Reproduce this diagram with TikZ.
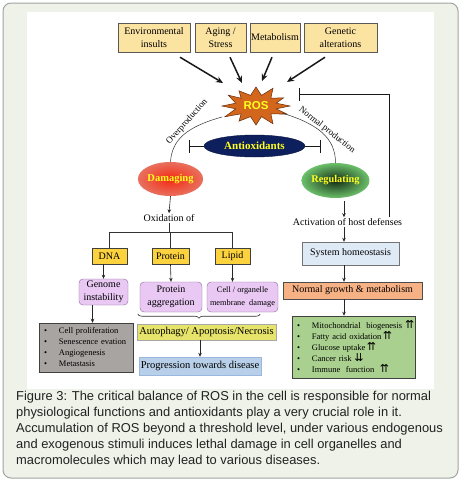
\documentclass[tikz,border=0pt]{standalone}
\usepackage{fontspec}
\setmainfont{Liberation Serif}
\newfontfamily\capfont{Liberation Sans}
\newfontfamily\symfont{DejaVu Sans}
\usetikzlibrary{arrows.meta,shapes.geometric,decorations.pathreplacing,calc}
\definecolor{framebg}{HTML}{EEF2E8}
\definecolor{frameln}{HTML}{A0A4A0}
\definecolor{tanfill}{HTML}{FBE3A2}
\definecolor{goldfill}{HTML}{FCD23E}
\definecolor{lilac}{HTML}{E9C8F4}
\definecolor{lilacln}{HTML}{8A6A9A}
\definecolor{grayfill}{HTML}{A8A4A2}
\definecolor{autofill}{HTML}{E6E46A}
\definecolor{progfill}{HTML}{B8CFE9}
\definecolor{progln}{HTML}{9AB8DD}
\definecolor{sysfill}{HTML}{DFEAF7}
\definecolor{ngfill}{HTML}{F6B184}
\definecolor{greenfill}{HTML}{A9D08E}
\definecolor{navy}{HTML}{0D1F5C}
\definecolor{rosfill}{HTML}{D2661C}
\definecolor{rosln}{HTML}{6A2A08}
\definecolor{txtyel}{HTML}{FFFF20}
\definecolor{captxt}{HTML}{222222}
\definecolor{damin}{HTML}{F42A12}
\definecolor{damout}{HTML}{E8705E}
\definecolor{regin}{HTML}{142A14}
\definecolor{regout}{HTML}{6CC06A}
\tikzset{
  sz/.style={font=\fontsize{#1}{#1}\selectfont},
  tbox/.style={draw=black!65, fill=tanfill, inner sep=0, align=center, minimum height=29,
     font=\fontsize{10}{12.5}\selectfont},
  gbox/.style={draw=black!75, fill=goldfill, inner sep=0, minimum height=16, font=\fontsize{10}{12}\selectfont},
  pbox/.style={draw=lilacln, fill=lilac, rounded corners=4pt, inner sep=0, align=center,
     font=\fontsize{10}{12.5}\selectfont},
  listbox/.style={draw=black!75, inner sep=5pt, align=left, font=\fontsize{8.5}{11}\selectfont},
  arr/.style={-{Stealth[length=4pt,width=3.5pt]}, line width=0.6pt, black!85},
  bigarr/.style={-{Stealth[length=7pt,width=6pt]}, line width=1.5pt, black!90},
  plain/.style={line width=0.6pt, black!80},
  inhib/.style={-{Bar[width=13pt,line width=1.2pt]}, line width=1pt, black!90}
}
\newcommand{\itm}[1]{\makebox[15pt][l]{\textbullet}#1}
\newcommand{\upup}{\rlap{\symfont\fontsize{11}{11}\selectfont ⇈}}
\newcommand{\dndn}{\rlap{\symfont\fontsize{11}{11}\selectfont ⇊}}
\begin{document}
\begin{tikzpicture}[x=1pt,y=-1pt]
\useasboundingbox (0,0) rectangle (462,480);
% frame
\draw[fill=framebg, draw=frameln, line width=1pt, rounded corners=8pt] (3,3) rectangle (458,478);
\fill[white] (27,12) rectangle (434,389);

% top boxes
\node[tbox, minimum width=72] (env) at (154,37.5) {Environmental\\insults};
\node[tbox, minimum width=51] (aging) at (220.5,37.5) {Aging /\\Stress};
\node[tbox, minimum width=50] (metab) at (275,37.5) {Metabolism};
\node[tbox, minimum width=73] (gen) at (340.5,37.5) {Genetic\\alterations};

% ROS
\node[ellipse, minimum width=70, minimum height=40, inner sep=0] (ros) at (256,106) {};
\filldraw[fill=rosfill, draw=rosln, line width=0.5pt]
  plot[variable=\t, samples at={0,15,...,345}]
  ({256+(mod(\t,30)==0 ? (34+2*sin(3*\t)) : 21)*cos(\t)},
   {106+(mod(\t,30)==0 ? (19+3*cos(5*\t)) : 11)*sin(\t)}) -- cycle;
\node[font=\capfont\bfseries\fontsize{11.5}{11.5}\selectfont, text=txtyel] (rostxt) at (ros.center) {ROS};

\draw[bigarr] ([shift={(26,5)}]env.south) -- ([shift={(-33,-23)}]ros.center);
\draw[bigarr] ([shift={(9.5,5)}]aging.south) -- ([shift={(-14,-23)}]ros.center);
\draw[bigarr] ([shift={(-3,5)}]metab.south) -- ([shift={(6,-25)}]ros.center);
\draw[bigarr] ([shift={(-15.5,5)}]gen.south) -- ([shift={(31,-24)}]ros.center);

% antioxidants
\node[ellipse, draw=navy!70!black, fill=navy, minimum width=101, minimum height=22, inner sep=0,
  text=txtyel, font=\bfseries\fontsize{11}{11}\selectfont] (antiox) at (254.5,146) {Antioxidants};
\draw[inhib] (antiox.west) -- ++(-15,0);
\draw[inhib] (antiox.east) -- ++(16,0);

% damaging / regulating
\node[ellipse, minimum width=57, minimum height=34, inner sep=0, inner color=damin,
  outer color=damout, text=txtyel, font=\bfseries\fontsize{10.5}{10.5}\selectfont] (dam) at (170.5,179) {Damaging};
\node[ellipse, minimum width=55, minimum height=35, inner sep=0, inner color=regin,
  outer color=regout, text=txtyel, font=\bfseries\fontsize{10.3}{10.3}\selectfont] (reg) at (335.5,180.5) {Regulating};

% arcs
\draw[plain, line width=0.5pt] ([shift={(-34,11)}]ros.center) .. controls (186,127) and (172,140) .. (dam.north);
\draw[plain, line width=0.5pt] ([shift={(26,7)}]ros.center) .. controls (318,124) and (335.5,138) .. (reg.north);
\node[rotate=48, sz=9] (ovp) at (187,122) {Overproduction};
\node[rotate=-38, sz=9] (nprod) at (327,130) {Normal production};

% left branch
\node[sz=10, inner sep=1pt] (ox) at (169,218) {Oxidation of};
\draw[arr] (dam.south) -- (ox.north);
\node[gbox, minimum width=35] (dna) at (109.5,256) {DNA};
\node[gbox, minimum width=37] (prot) at (170.5,256) {Protein};
\node[gbox, minimum width=35] (lip) at (232.5,256) {Lipid};
\draw[plain] (ox.south) -- ++(0,10) coordinate (bj);
\draw[plain] (dna.north) -- (dna.north |- bj) -- (lip.north |- bj) -- (lip.north);
\draw[plain] (prot.north) -- (prot.north |- bj);

\node[pbox, minimum width=49, minimum height=26] (gi) at (103.5,292) {Genome\\instability};
\node[pbox, minimum width=62, minimum height=30] (pa) at (171,297) {Protein\\aggregation};
\node[pbox, minimum width=71, minimum height=30, font=\fontsize{8.3}{13}\selectfont] (cm) at (242.5,297) {Cell / organelle\\membrane\ \ damage};
\draw[arr] (gi.north |- dna.south) -- (gi.north);
\draw[arr] (prot.south) -- (pa.north);
\draw[arr] (lip.south) -- (lip.south |- cm.north);

\node[listbox, fill=grayfill, text width=84, minimum height=49] (glist) at (86,347.5)
  {\itm{Cell proliferation}\\ \itm{Senescence evation}\\ \itm{Angiogenesis}\\ \itm{Metastasis}};
\draw[arr] ([xshift=-11pt]gi.south) -- ([xshift=-11pt]gi.south |- glist.north);

\node[draw=black!35, fill=autofill, minimum width=139, minimum height=16, inner sep=0,
  font=\fontsize{10.5}{10.5}\selectfont] (auto) at (206.5,332) {Autophagy/ Apoptosis/Necrosis};
\draw[plain, decorate, decoration={brace, mirror, amplitude=4pt}]
  ([shift={(-2,2)}]pa.south west) -- ([shift={(-18,2)}]cm.south east);
\node[draw=progln, fill=progfill, minimum width=122, minimum height=18, inner sep=0,
  font=\fontsize{10.5}{10.5}\selectfont] (prog) at (200,366) {Progression towards disease};
\draw[arr] (auto.south -| prog.north) -- (prog.north);

% right branch
\coordinate (col) at (344,0);
\node[sz=10, inner sep=1pt] (act) at (347.5,222) {Activation of host defenses};
\node[draw=black!55, fill=sysfill, minimum width=97, minimum height=23, inner sep=0,
  font=\fontsize{10}{10}\selectfont] (sys) at (350.5,253.5) {System homeostasis};
\node[draw=black!70, fill=ngfill, minimum width=139, minimum height=17, inner sep=0,
  font=\fontsize{10}{10}\selectfont] (ng) at (352.5,290.5) {Normal growth \& metabolism};
\node[listbox, fill=greenfill, text width=113, minimum height=62] (grl) at (353.5,347)
  {\itm{Mitochondrial\ \ biogenesis\ \upup}\\
   \itm{Fatty acid oxidation\,\upup}\\
   \itm{Glucose uptake\,\upup}\\
   \itm{Cancer risk \dndn}\\
   \itm{Immune\ \ function\ \ \upup}};
\draw[arr] ([yshift=-3pt]reg.south -| col) -- (act.north -| col);
\draw[arr] (act.south -| col) -- (sys.north -| col);
\draw[arr] (sys.south -| col) -- (ng.north -| col);
\draw[arr] (ng.south -| col) -- (grl.north -| col);

% feedback inhibition
\coordinate (fb) at (389,0);
\coordinate (rosbar) at (299,94);
\draw[inhib] (act.north -| fb) |- (rosbar);

% caption
\node[anchor=north west, inner sep=0, align=left, text=captxt,
  font=\capfont\fontsize{12.9}{16}\selectfont] (cap) at (16,391)
  {Figure 3: The critical balance of ROS in the cell is responsible for normal\\
   physiological functions and antioxidants play a very crucial role in it.\\
   Accumulation of ROS beyond a threshold level, under various endogenous\\
   and exogenous stimuli induces lethal damage in cell organelles and\\
   macromolecules which may lead to various diseases.};
\end{tikzpicture}
\end{document}
